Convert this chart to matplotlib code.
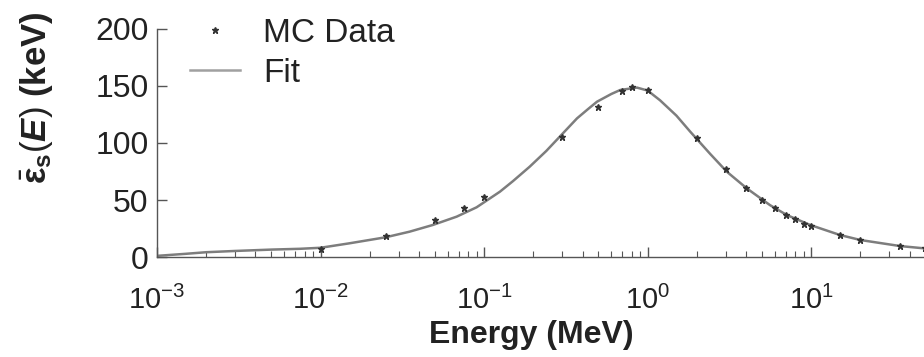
import numpy as np
import matplotlib
matplotlib.use('Agg')
import matplotlib.pyplot as plt

# MC data points (energy in MeV, mean energy in keV)
mc_energy = [0.01, 0.025, 0.05, 0.075, 0.1, 0.3, 0.5, 0.7, 0.8, 1.0,
             2.0, 3.0, 4.0, 5.0, 6.0, 7.0, 8.0, 9.0, 10.0, 15.0, 20.0, 35.0, 50.0]
mc_value = [7.2, 18.4, 32.4, 43.2, 52.9, 105.5, 131.3, 145.9, 148.8, 146.5,
            104.4, 77, 60.5, 50, 43, 36.8, 33.3, 29, 27.2, 19.3, 14.9, 9.6, 7.9]

# Fit curve, sampled from the figure
fit_energy = [0.001, 0.0015, 0.002, 0.003, 0.005, 0.0075, 0.01, 0.015, 0.025, 0.035,
              0.0486, 0.068, 0.09, 0.125, 0.15, 0.19, 0.24, 0.29, 0.37, 0.43,
              0.49, 0.6, 0.68, 0.86, 1.0, 1.19, 1.5, 1.82, 2.41, 3.05,
              4.04, 5.6, 7.1, 9.86, 15.0, 20.0, 35.0, 49.0, 100.0]
fit_value = [1.0, 2.8, 4.2, 5.3, 6.5, 7.2, 8.1, 12.0, 17.3, 22.2,
             28.1, 35.4, 43.6, 57.3, 66.5, 79.2, 93.0, 105.5, 121.6, 129.5,
             136.2, 143.0, 146.5, 148.6, 146.0, 137.5, 124.0, 110.0, 90.5, 74.8,
             60.2, 45.5, 36.8, 28.1, 19.3, 14.9, 9.6, 7.6, 4.0]

xticks = [1e-3, 1e-2, 1e-1, 1e0, 1e1]
yticks = [0, 50, 100, 150, 200]

plt.rcParams['font.family'] = ['Liberation Sans', 'DejaVu Sans']
plt.rcParams['mathtext.fontset'] = 'custom'
plt.rcParams['mathtext.rm'] = 'Liberation Sans'
plt.rcParams['mathtext.it'] = 'Liberation Sans:italic'
plt.rcParams['mathtext.bf'] = 'Liberation Sans:bold'
plt.rcParams['mathtext.bfit'] = 'Liberation Sans:bold:italic'

fig = plt.figure(figsize=(9.24, 3.57), dpi=100)
# the axis runs on past the right edge of the picture (cropped at ~50 MeV)
ax = fig.add_axes([0.1699, 0.2801, 0.885, 0.6387])

axis_col = '#555555'
ax.plot(fit_energy, fit_value, color='#7d7d7d', lw=1.8, label='Fit', zorder=2)
ax.plot(mc_energy, mc_value, ls='none', marker='*', ms=4.5, color='#333333',
        label='MC Data', zorder=3)

ax.set_xscale('log')
ax.set_xlim(1e-3, 1e2)
ax.set_ylim(0, 200)
ax.set_xticks(xticks)
ax.set_yticks(yticks)

for s in ['top', 'right']:
    ax.spines[s].set_visible(False)
for s in ['left', 'bottom']:
    ax.spines[s].set_color(axis_col)
    ax.spines[s].set_linewidth(1.0)

ax.tick_params(axis='both', which='major', direction='in', length=7, width=1,
               color=axis_col, labelcolor='#222222')
ax.tick_params(axis='x', which='minor', direction='in', length=4, width=0.8,
               color=axis_col)
ax.tick_params(axis='x', which='major', pad=21, labelsize=21)
ax.tick_params(axis='y', which='major', pad=6, labelsize=23)

ax.set_xlabel('Energy (MeV)', fontsize=23, fontweight='bold', color='#222222',
              va='top')
ax.xaxis.set_label_coords(0.458, -0.276)
ax.set_ylabel(r'$\bar{\mathbf{\varepsilon}}_{\mathbf{s}}(\mathbfit{E})$ (keV)',
              fontsize=25, fontweight='bold', color='#222222')
ax.yaxis.set_label_coords(-0.125, 0.70)

handles, labels = ax.get_legend_handles_labels()
leg = ax.legend(handles[::-1], labels[::-1], loc='upper left',
                bbox_to_anchor=(0.040, 1.048), frameon=False, fontsize=24,
                borderpad=0, borderaxespad=0,
                handlelength=1.5, handletextpad=0.7, labelspacing=0.26,
                markerscale=1.0)
for t in leg.get_texts():
    t.set_color('#222222')
leg.get_lines()[1].set_color('#a0a0a0')

fig.savefig('out.png', dpi=100)
